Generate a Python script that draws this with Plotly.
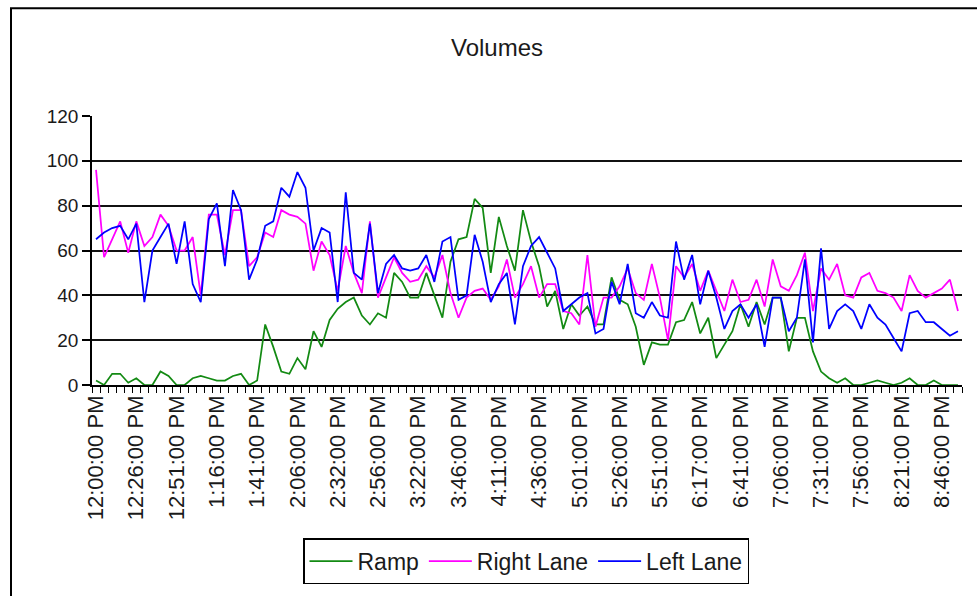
import datetime as dt
import plotly.graph_objects as go

# Labelled times (every fifth 5-minute interval)
label_times = ["12:00:00 PM", "12:26:00 PM", "12:51:00 PM", "1:16:00 PM", "1:41:00 PM",
               "2:06:00 PM", "2:32:00 PM", "2:56:00 PM", "3:22:00 PM", "3:46:00 PM",
               "4:11:00 PM", "4:36:00 PM", "5:01:00 PM", "5:26:00 PM", "5:51:00 PM",
               "6:17:00 PM", "6:41:00 PM", "7:06:00 PM", "7:31:00 PM", "7:56:00 PM",
               "8:21:00 PM", "8:46:00 PM"]

ramp = [2, 0, 5, 5, 1, 3, 0, 0, 6, 4,
        0, 0, 3, 4, 3, 2, 2, 4, 5, 0,
        2, 27, 17, 6, 5, 12, 7, 24, 17, 29,
        34, 37, 39, 31, 27, 32, 30, 50, 46, 39,
        39, 50, 40, 30, 55, 65, 66, 83, 79, 50,
        75, 62, 51, 78, 64, 53, 35, 42, 25, 36,
        31, 35, 27, 27, 48, 38, 36, 26, 9, 19,
        18, 18, 28, 29, 37, 23, 30, 12, 18, 24,
        36, 26, 37, 27, 39, 39, 15, 30, 30, 15,
        6, 3, 1, 3, 0, 0, 1, 2, 1, 0,
        1, 3, 0, 0, 2, 0, 0, 0]

right_lane = [96, 57, 65, 73, 59, 73, 62, 66, 76, 71,
              60, 60, 66, 40, 76, 76, 58, 78, 78, 53,
              57, 68, 66, 78, 76, 75, 72, 51, 64, 58,
              42, 62, 50, 41, 73, 39, 48, 57, 50, 46,
              47, 53, 48, 58, 41, 30, 39, 42, 43, 38,
              44, 56, 39, 45, 53, 39, 45, 45, 33, 32,
              27, 58, 26, 39, 39, 44, 52, 41, 38, 54,
              39, 20, 53, 48, 54, 42, 51, 42, 33, 47,
              37, 38, 47, 35, 56, 44, 42, 49, 59, 33,
              52, 47, 54, 40, 39, 48, 50, 42, 41, 39,
              33, 49, 42, 39, 41, 43, 47, 33]

left_lane = [65, 68, 70, 71, 65, 72, 37, 60, 66, 72,
             54, 73, 45, 37, 74, 81, 53, 87, 78, 47,
             56, 71, 73, 88, 84, 95, 88, 60, 70, 68,
             37, 86, 50, 47, 72, 41, 54, 58, 52, 51,
             52, 58, 46, 64, 66, 38, 40, 67, 55, 37,
             45, 50, 27, 53, 62, 66, 59, 52, 33, 36,
             39, 41, 23, 25, 46, 36, 54, 32, 30, 37,
             31, 30, 64, 47, 58, 36, 51, 39, 25, 33,
             36, 30, 36, 17, 39, 39, 24, 30, 56, 19,
             61, 25, 33, 36, 33, 25, 36, 30, 27, 21,
             15, 32, 33, 28, 28, 25, 22, 24]

# Build the full category list: each labelled time followed by 5-minute steps
times = []
fmt = "%I:%M:%S %p"
for lab in label_times:
    t0 = dt.datetime.strptime(lab, fmt)
    for k in range(5):
        t = t0 + dt.timedelta(minutes=5 * k)
        times.append(t.strftime(fmt).lstrip("0"))
times = times[:len(ramp)]
tick_text = [t if t in label_times else "" for t in times]

FONT = "Liberation Sans, Arial, sans-serif"
TXT = "#1a1a1a"

fig = go.Figure()
for name, vals, col in [("Ramp", ramp, "#138a13"),
                        ("Right Lane", right_lane, "#ff00ff"),
                        ("Left Lane", left_lane, "#0000ff")]:
    fig.add_trace(go.Scatter(x=times, y=vals, mode="lines", name=name,
                             line=dict(color=col, width=1.75)))

W, H = 977, 596
L, R, T, B = 92, 15, 116, 208
pw, ph = W - L - R, H - T - B

fig.update_layout(
    width=W, height=H,
    margin=dict(l=L, r=R, t=T, b=B, pad=0),
    paper_bgcolor="white", plot_bgcolor="white",
    font=dict(family=FONT, color=TXT),
    title=dict(text="Volumes", font=dict(size=24, color=TXT), x=(497 - L) / pw,
               xref="paper", xanchor="center", y=1 - 48 / H, yref="container",
               yanchor="middle"),
    showlegend=True,
    legend=dict(orientation="h", x=(526 - L) / pw, xanchor="center",
                y=(H - B - 543) / ph, yanchor="top", itemwidth=43,
                bordercolor="black", borderwidth=1.5, bgcolor="white",
                font=dict(size=23, color=TXT), tracegroupgap=0),
    xaxis=dict(type="category", categoryorder="array", categoryarray=times,
               range=[-0.5, len(times) - 0.5], tickmode="array",
               tickvals=times, ticktext=tick_text, tickson="boundaries",
               ticks="outside", ticklen=6, tickwidth=1, tickcolor="black",
               tickangle=-90, tickfont=dict(size=22, color=TXT),
               showline=True, linecolor="black", linewidth=1.5,
               showgrid=False, zeroline=False),
    yaxis=dict(range=[0, 120], dtick=20, tick0=0, ticks="outside", ticklen=8,
               tickwidth=1.5, tickcolor="black", tickfont=dict(size=19, color=TXT),
               showline=True, linecolor="black", linewidth=1.5,
               showgrid=True, gridcolor="#111111", gridwidth=2, zeroline=False),
    shapes=[dict(type="rect", xref="paper", yref="paper",
                 x0=(11 - L) / pw, x1=1.2, y0=-1.2, y1=(H - B - 7) / ph,
                 line=dict(color="black", width=2), fillcolor="rgba(0,0,0,0)",
                 layer="above")],
)

fig.write_html("out.html")
